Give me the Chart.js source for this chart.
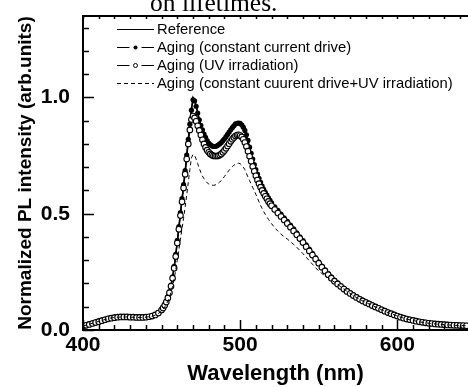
<!DOCTYPE html>
<html>
<head>
<meta charset="utf-8">
<script src="https://cdn.jsdelivr.net/npm/chart.js@4.4.0/dist/chart.umd.min.js"></script>
<style>
    html, body { margin: 0; padding: 0; background: #fff; }
    #wrap { width: 468px; height: 387px; }
</style>
</head>
<body>
<div id="wrap"><canvas id="spectrum" width="468" height="387"></canvas></div>
<script>
// --- Data ---
const wavelengths = [
    400, 402, 404, 406, 408, 410, 412, 414, 416, 418, 420, 422, 424, 426, 428, 430, 432, 434, 436, 438, 440, 442, 444, 446, 448,
    450, 451, 452, 453, 454, 455, 456, 457, 458, 459, 460, 461, 462, 463, 464, 465, 466, 467, 468, 469,
    470, 471, 472, 473, 474, 475, 476, 477, 478, 479, 480, 481, 482, 483, 484, 485, 486, 487, 488, 489,
    490, 491, 492, 493, 494, 495, 496, 497, 498, 499, 500, 501, 502, 503, 504, 505, 506, 507, 508, 509,
    510, 511, 512, 513, 514, 515, 516, 517, 518, 519, 520,
    522, 524, 526, 528, 530, 532, 534, 536, 538, 540, 542, 544, 546, 548, 550, 552, 554, 556, 558, 560,
    562, 564, 566, 568, 570, 572, 574, 576, 578, 580, 582, 584, 586, 588, 590, 592, 594, 596, 598, 600,
    602, 604, 606, 608, 610, 612, 614, 616, 618, 620, 622, 624, 626, 628, 630, 632, 634, 636, 638, 640, 642, 644
];

const reference = [
    0.018, 0.022, 0.026, 0.030, 0.034, 0.038, 0.042, 0.046, 0.050, 0.053, 0.055, 0.056, 0.057, 0.057, 0.057, 0.056, 0.056, 0.055, 0.055, 0.055, 0.056, 0.058, 0.061, 0.066, 0.075,
    0.088, 0.097, 0.108, 0.122, 0.140, 0.162, 0.190, 0.225, 0.270, 0.320, 0.380, 0.440, 0.500, 0.560, 0.620, 0.680, 0.750, 0.820, 0.890, 0.950,
    1.000, 0.990, 0.965, 0.935, 0.905, 0.880, 0.860, 0.840, 0.825, 0.810, 0.800, 0.793, 0.788, 0.785, 0.785, 0.787, 0.790, 0.795, 0.800, 0.808,
    0.816, 0.825, 0.835, 0.845, 0.855, 0.864, 0.872, 0.878, 0.882, 0.885, 0.885, 0.880, 0.870, 0.855, 0.835, 0.810, 0.780, 0.755, 0.730, 0.705,
    0.685, 0.665, 0.647, 0.630, 0.614, 0.600, 0.587, 0.575, 0.563, 0.552, 0.542,
    0.525, 0.510, 0.494, 0.478, 0.463, 0.447, 0.431, 0.414, 0.397, 0.380, 0.362, 0.344, 0.326, 0.308, 0.290, 0.272, 0.256, 0.240, 0.225, 0.212,
    0.200, 0.189, 0.178, 0.168, 0.159, 0.150, 0.142, 0.134, 0.127, 0.120, 0.114, 0.107, 0.101, 0.095, 0.089, 0.083, 0.077, 0.071, 0.066, 0.061,
    0.056, 0.052, 0.048, 0.045, 0.042, 0.039, 0.036, 0.034, 0.032, 0.030, 0.029, 0.027, 0.026, 0.025, 0.024, 0.023, 0.022, 0.021, 0.021, 0.020, 0.020, 0.019
];

const constantCurrent = [
    0.020, 0.023, 0.027, 0.031, 0.035, 0.039, 0.043, 0.047, 0.050, 0.053, 0.055, 0.057, 0.057, 0.058, 0.057, 0.057, 0.056, 0.056, 0.055, 0.056, 0.057, 0.058, 0.062, 0.067, 0.076,
    0.089, 0.098, 0.110, 0.124, 0.142, 0.165, 0.193, 0.228, 0.274, 0.325, 0.385, 0.445, 0.505, 0.565, 0.625, 0.685, 0.752, 0.820, 0.885, 0.945,
    0.990, 0.985, 0.962, 0.933, 0.904, 0.880, 0.860, 0.842, 0.828, 0.814, 0.804, 0.797, 0.792, 0.789, 0.789, 0.791, 0.795, 0.800, 0.806, 0.814,
    0.822, 0.831, 0.841, 0.851, 0.861, 0.870, 0.878, 0.886, 0.889, 0.890, 0.888, 0.882, 0.872, 0.858, 0.839, 0.815, 0.786, 0.760, 0.735, 0.711,
    0.690, 0.670, 0.652, 0.635, 0.619, 0.605, 0.592, 0.580, 0.568, 0.557, 0.547,
    0.530, 0.514, 0.498, 0.482, 0.467, 0.451, 0.435, 0.418, 0.401, 0.384, 0.366, 0.348, 0.330, 0.311, 0.293, 0.275, 0.259, 0.243, 0.228, 0.215,
    0.203, 0.191, 0.180, 0.170, 0.161, 0.152, 0.144, 0.136, 0.129, 0.122, 0.115, 0.109, 0.102, 0.096, 0.090, 0.084, 0.078, 0.072, 0.067, 0.062,
    0.057, 0.053, 0.049, 0.046, 0.043, 0.040, 0.037, 0.035, 0.033, 0.031, 0.029, 0.028, 0.027, 0.026, 0.025, 0.024, 0.023, 0.022, 0.021, 0.021, 0.020, 0.020
];

const uvIrradiation = [
    0.016, 0.020, 0.024, 0.028, 0.032, 0.036, 0.040, 0.044, 0.048, 0.051, 0.053, 0.055, 0.056, 0.056, 0.056, 0.055, 0.055, 0.054, 0.054, 0.054, 0.055, 0.057, 0.060, 0.065, 0.073,
    0.086, 0.095, 0.106, 0.120, 0.138, 0.160, 0.188, 0.222, 0.266, 0.316, 0.374, 0.433, 0.492, 0.551, 0.610, 0.670, 0.735, 0.800, 0.860, 0.905,
    0.920, 0.912, 0.897, 0.878, 0.858, 0.838, 0.818, 0.800, 0.785, 0.773, 0.764, 0.757, 0.752, 0.749, 0.748, 0.748, 0.749, 0.752, 0.757, 0.764,
    0.772, 0.781, 0.791, 0.801, 0.811, 0.820, 0.828, 0.834, 0.838, 0.839, 0.836, 0.830, 0.820, 0.806, 0.789, 0.769, 0.747, 0.725, 0.703, 0.682,
    0.663, 0.645, 0.629, 0.614, 0.600, 0.587, 0.575, 0.564, 0.553, 0.543, 0.534,
    0.518, 0.503, 0.488, 0.473, 0.458, 0.442, 0.426, 0.410, 0.393, 0.376, 0.358, 0.340, 0.322, 0.305, 0.287, 0.270, 0.254, 0.238, 0.223, 0.210,
    0.198, 0.187, 0.176, 0.166, 0.157, 0.148, 0.140, 0.132, 0.125, 0.118, 0.112, 0.105, 0.099, 0.093, 0.087, 0.081, 0.075, 0.070, 0.065, 0.060,
    0.055, 0.051, 0.047, 0.044, 0.041, 0.038, 0.035, 0.033, 0.031, 0.029, 0.028, 0.026, 0.025, 0.024, 0.023, 0.022, 0.021, 0.020, 0.020, 0.019, 0.019, 0.018
];

const currentPlusUv = [
    0.017, 0.021, 0.025, 0.029, 0.033, 0.037, 0.041, 0.045, 0.049, 0.052, 0.054, 0.055, 0.056, 0.056, 0.056, 0.055, 0.055, 0.054, 0.054, 0.054, 0.055, 0.057, 0.059, 0.064, 0.071,
    0.082, 0.090, 0.099, 0.110, 0.124, 0.141, 0.162, 0.188, 0.220, 0.258, 0.300, 0.345, 0.390, 0.435, 0.480, 0.530, 0.580, 0.635, 0.690, 0.740,
    0.755, 0.750, 0.735, 0.715, 0.695, 0.677, 0.662, 0.650, 0.640, 0.633, 0.628, 0.625, 0.623, 0.622, 0.623, 0.626, 0.630, 0.636, 0.643, 0.651,
    0.660, 0.669, 0.678, 0.687, 0.695, 0.702, 0.708, 0.713, 0.716, 0.717, 0.715, 0.709, 0.700, 0.690, 0.673, 0.657, 0.642, 0.628, 0.613, 0.598,
    0.583, 0.567, 0.551, 0.536, 0.522, 0.509, 0.497, 0.486, 0.476, 0.466, 0.457,
    0.440, 0.425, 0.412, 0.401, 0.391, 0.380, 0.368, 0.356, 0.342, 0.328, 0.313, 0.298, 0.283, 0.268, 0.254, 0.243, 0.233, 0.224, 0.215, 0.206,
    0.196, 0.186, 0.176, 0.166, 0.157, 0.148, 0.140, 0.132, 0.125, 0.118, 0.112, 0.105, 0.099, 0.093, 0.087, 0.081, 0.075, 0.070, 0.065, 0.060,
    0.055, 0.051, 0.047, 0.044, 0.041, 0.038, 0.035, 0.033, 0.031, 0.029, 0.028, 0.026, 0.025, 0.024, 0.023, 0.022, 0.021, 0.020, 0.020, 0.019, 0.019, 0.018
];

const seriesNames = [
    'Reference',
    'Aging (constant current drive)',
    'Aging (UV irradiation)',
    'Aging (constant cuurent drive+UV irradiation)'
];
const xTickLabels = [400, 500, 600];
const yTickLabels = [0.0, 0.5, 1.0];
const pageCaption = 'on lifetimes.';

// --- Helpers ---
const toPoints = (values) => wavelengths.map((w, i) => ({ x: w, y: values[i] }));

// inward tick marks + top frame line
const innerTicks = {
    id: 'innerTicks',
    afterDraw(chart) {
        const { ctx, chartArea: { left, right, top, bottom }, scales: { x, y } } = chart;
        ctx.save();
        ctx.strokeStyle = '#000';
        ctx.lineWidth = 1.5;
        x.ticks.forEach(t => {
            const px = Math.round(x.getPixelForValue(t.value)) + 0.5;
            const major = t.value % 100 === 0;
            ctx.beginPath();
            ctx.moveTo(px, bottom);
            ctx.lineTo(px, bottom - (major ? 10 : 5));
            ctx.stroke();
            ctx.beginPath();
            ctx.moveTo(px, top);
            ctx.lineTo(px, top + 3);
            ctx.stroke();
        });
        y.ticks.forEach(t => {
            const py = Math.round(y.getPixelForValue(t.value)) + 0.5;
            const major = Math.abs(t.value * 2 - Math.round(t.value * 2)) < 1e-6;
            ctx.beginPath();
            ctx.moveTo(left, py);
            ctx.lineTo(left + (major ? 11 : 6), py);
            ctx.stroke();
        });
        // top frame
        ctx.lineWidth = 2;
        ctx.beginPath();
        ctx.moveTo(left, top);
        ctx.lineTo(right, top);
        ctx.stroke();
        ctx.restore();
    }
};

// legend drawn by hand so line + symbol samples look like the original
const sampleLegend = {
    id: 'sampleLegend',
    afterDraw(chart) {
        const { ctx } = chart;
        const x0 = 117, x1 = 154, textX = 157;
        const rows = [29, 47, 65, 83];
        ctx.save();
        ctx.font = '14.8px "Liberation Sans", Arial, sans-serif';
        ctx.textBaseline = 'middle';
        ctx.fillStyle = '#000';
        seriesNames.forEach((name, i) => {
            const ds = chart.data.datasets[i];
            const yy = rows[i] + 0.5;
            ctx.strokeStyle = '#000';
            ctx.lineWidth = 1;
            ctx.setLineDash(ds.borderDash || []);
            if (ds.pointRadius > 0) {
                const mid = (x0 + x1) / 2;
                ctx.beginPath();
                ctx.moveTo(x0, yy); ctx.lineTo(mid - 6, yy);
                ctx.moveTo(mid + 6, yy); ctx.lineTo(x1, yy);
                ctx.stroke();
                ctx.beginPath();
                ctx.arc(mid, yy, 2, 0, Math.PI * 2);
                ctx.fillStyle = ds.pointBackgroundColor;
                ctx.fill();
                if (ds.pointBorderWidth) {
                    ctx.lineWidth = 1;
                    ctx.strokeStyle = ds.pointBorderColor;
                    ctx.stroke();
                }
                ctx.fillStyle = '#000';
            } else {
                ctx.beginPath();
                ctx.moveTo(x0, yy); ctx.lineTo(x1, yy);
                ctx.stroke();
            }
            ctx.setLineDash([]);
            ctx.fillText(name, textX, yy);
        });
        // caption fragment left over from the page above the figure
        ctx.font = '25.5px "Liberation Serif", "Times New Roman", serif';
        ctx.textBaseline = 'alphabetic';
        ctx.fillText(pageCaption, 150, 10.5);
        ctx.restore();
    }
};

const ctx = document.getElementById('spectrum');
new Chart(ctx, {
    type: 'line',
    data: {
        datasets: [
            {
                label: seriesNames[0],
                data: toPoints(reference),
                borderColor: '#000',
                borderWidth: 1.5,
                pointRadius: 0,
                order: 3
            },
            {
                label: seriesNames[1],
                data: toPoints(constantCurrent),
                borderColor: '#000',
                borderWidth: 1.2,
                pointRadius: 2.6,
                pointBackgroundColor: '#000',
                pointBorderColor: '#000',
                pointBorderWidth: 0,
                order: 2
            },
            {
                label: seriesNames[2],
                data: toPoints(uvIrradiation),
                borderColor: '#000',
                borderWidth: 1,
                pointRadius: 2.8,
                pointBackgroundColor: '#fff',
                pointBorderColor: '#000',
                pointBorderWidth: 1.1,
                order: 1
            },
            {
                label: seriesNames[3],
                data: toPoints(currentPlusUv),
                borderColor: '#000',
                borderWidth: 1,
                borderDash: [4, 3],
                pointRadius: 0,
                order: 0
            }
        ]
    },
    options: {
        responsive: false,
        animation: false,
        devicePixelRatio: 1,
        layout: { autoPadding: false, padding: { top: 16, right: 0, bottom: 0, left: 0 } },
        plugins: { legend: { display: false }, tooltip: { enabled: false } },
        elements: { line: { tension: 0 } },
        scales: {
            x: {
                type: 'linear',
                min: 400,
                max: 645,
                afterBuildTicks: (scale) => {
                    const ticks = [];
                    for (let v = 400; v <= 640; v += 10) ticks.push({ value: v });
                    scale.ticks = ticks;
                },
                afterFit: (scale) => {
                    scale.height = 57;
                    scale.paddingLeft = 0;
                    scale.paddingRight = 0;
                },
                ticks: {
                    autoSkip: false,
                    maxRotation: 0,
                    padding: 3,
                    color: '#000',
                    font: { family: '"Liberation Sans", Arial, sans-serif', size: 21, weight: 'bold' },
                    callback: (v) => xTickLabels.includes(v) ? String(v) : ''
                },
                grid: { drawOnChartArea: false, drawTicks: false, color: '#000' },
                border: { display: true, color: '#000', width: 2 },
                title: {
                    display: true,
                    text: 'Wavelength (nm)',
                    color: '#000',
                    padding: { top: 0, bottom: 0 },
                    font: { family: '"Liberation Sans", Arial, sans-serif', size: 22, weight: 'bold' }
                }
            },
            y: {
                min: 0,
                max: 1.35,
                afterBuildTicks: (scale) => {
                    const ticks = [];
                    for (let k = 0; k <= 13; k++) ticks.push({ value: k / 10 });
                    scale.ticks = ticks;
                },
                afterFit: (scale) => {
                    scale.width = 83;
                    scale.paddingTop = 0;
                    scale.paddingBottom = 0;
                },
                ticks: {
                    autoSkip: false,
                    padding: 13,
                    color: '#000',
                    font: { family: '"Liberation Sans", Arial, sans-serif', size: 21, weight: 'bold' },
                    callback: (v) => yTickLabels.some(t => Math.abs(t - v) < 1e-6) ? v.toFixed(1) : ''
                },
                grid: { drawOnChartArea: false, drawTicks: false, color: '#000' },
                border: { display: true, color: '#000', width: 2 },
                title: {
                    display: true,
                    text: 'Normalized PL intensity (arb.units)',
                    color: '#000',
                    padding: { top: 14, bottom: 0 },
                    font: { family: '"Liberation Sans", Arial, sans-serif', size: 19, weight: 'bold' }
                }
            }
        }
    },
    plugins: [innerTicks, sampleLegend]
});
</script>
</body>
</html>
